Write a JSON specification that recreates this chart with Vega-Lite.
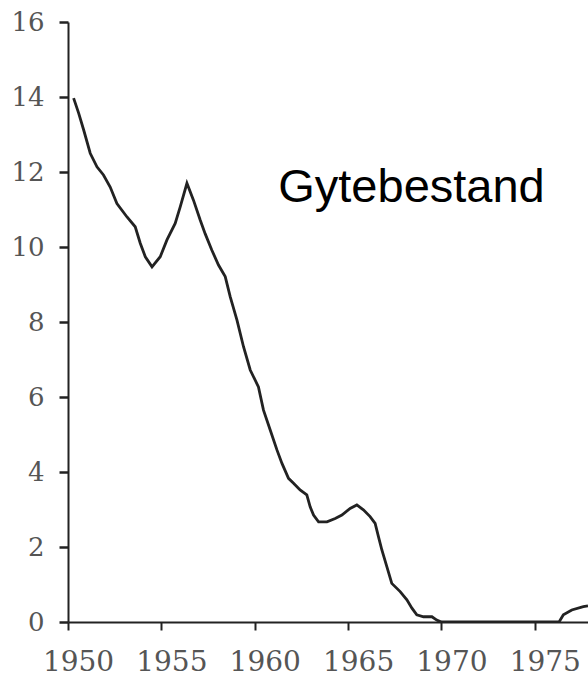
{
  "$schema": "https://vega.github.io/schema/vega-lite/v6.json",
  "width": 520,
  "height": 600,
  "autosize": {"type": "none"},
  "padding": {"left": 68, "top": 22, "right": 0, "bottom": 56},
  "background": "white",
  "config": {"view": {"stroke": null}},
  "datasets": {
    "series": [
      {"year": 1950.3, "value": 13.97},
      {"year": 1950.57, "value": 13.57},
      {"year": 1950.84, "value": 13.12},
      {"year": 1951.19, "value": 12.5},
      {"year": 1951.55, "value": 12.14},
      {"year": 1951.9, "value": 11.92},
      {"year": 1952.26, "value": 11.6},
      {"year": 1952.62, "value": 11.16},
      {"year": 1953.16, "value": 10.8},
      {"year": 1953.6, "value": 10.54},
      {"year": 1953.87, "value": 10.1},
      {"year": 1954.14, "value": 9.74},
      {"year": 1954.5, "value": 9.47},
      {"year": 1954.94, "value": 9.74},
      {"year": 1955.3, "value": 10.19},
      {"year": 1955.74, "value": 10.63},
      {"year": 1956.01, "value": 11.07},
      {"year": 1956.37, "value": 11.7},
      {"year": 1956.72, "value": 11.25},
      {"year": 1957.08, "value": 10.72},
      {"year": 1957.35, "value": 10.35},
      {"year": 1957.7, "value": 9.92},
      {"year": 1958.06, "value": 9.52},
      {"year": 1958.42, "value": 9.21},
      {"year": 1958.69, "value": 8.67},
      {"year": 1959.05, "value": 8.05},
      {"year": 1959.4, "value": 7.34},
      {"year": 1959.76, "value": 6.72},
      {"year": 1960.2, "value": 6.27},
      {"year": 1960.47, "value": 5.65},
      {"year": 1960.83, "value": 5.12},
      {"year": 1961.19, "value": 4.59},
      {"year": 1961.46, "value": 4.23},
      {"year": 1961.81, "value": 3.83},
      {"year": 1962.08, "value": 3.7},
      {"year": 1962.43, "value": 3.52},
      {"year": 1962.79, "value": 3.39},
      {"year": 1962.97, "value": 3.07},
      {"year": 1963.15, "value": 2.85},
      {"year": 1963.42, "value": 2.67},
      {"year": 1963.87, "value": 2.67},
      {"year": 1964.31, "value": 2.76},
      {"year": 1964.67, "value": 2.85},
      {"year": 1965.11, "value": 3.03},
      {"year": 1965.47, "value": 3.12},
      {"year": 1965.82, "value": 2.99},
      {"year": 1966.18, "value": 2.81},
      {"year": 1966.45, "value": 2.63},
      {"year": 1966.63, "value": 2.27},
      {"year": 1966.81, "value": 1.92},
      {"year": 1967.08, "value": 1.47},
      {"year": 1967.34, "value": 1.03},
      {"year": 1967.79, "value": 0.81},
      {"year": 1968.15, "value": 0.59},
      {"year": 1968.42, "value": 0.37},
      {"year": 1968.68, "value": 0.19},
      {"year": 1969.04, "value": 0.14},
      {"year": 1969.49, "value": 0.14},
      {"year": 1969.75, "value": 0.05},
      {"year": 1970, "value": 0},
      {"year": 1971, "value": 0},
      {"year": 1972, "value": 0},
      {"year": 1973, "value": 0},
      {"year": 1974, "value": 0},
      {"year": 1975, "value": 0},
      {"year": 1976, "value": 0},
      {"year": 1976.3, "value": 0},
      {"year": 1976.53, "value": 0.19},
      {"year": 1976.98, "value": 0.32},
      {"year": 1977.6, "value": 0.41},
      {"year": 1977.85, "value": 0.43}
    ],
    "label": [
      {"year": 1961.26, "value": 11.2, "text": "Gytebestand"}
    ]
  },
  "layer": [
    {
      "data": {"name": "series"},
      "mark": {"type": "line", "color": "#222222", "strokeWidth": 2.8, "clip": true},
      "encoding": {
        "x": {
          "field": "year",
          "type": "quantitative",
          "scale": {"domain": [1950, 1977.85], "nice": false, "zero": false},
          "axis": {
            "title": null,
            "values": [1950, 1955, 1960, 1965, 1970, 1975],
            "format": "d",
            "grid": false,
            "domainColor": "#222222",
            "domainWidth": 2,
            "tickColor": "#222222",
            "tickWidth": 2,
            "tickSize": 8,
            "labelFont": "DejaVu Serif",
            "labelFontSize": 28,
            "labelColor": "#555555",
            "labelPadding": 18,
            "labelOffset": 10,
            "labelFlush": false,
            "labelOverlap": false
          }
        },
        "y": {
          "field": "value",
          "type": "quantitative",
          "scale": {"domain": [0, 16], "nice": false},
          "axis": {
            "title": null,
            "values": [0, 2, 4, 6, 8, 10, 12, 14, 16],
            "grid": false,
            "domainColor": "#222222",
            "domainWidth": 2,
            "tickColor": "#222222",
            "tickWidth": 2.5,
            "tickSize": 9,
            "labelFont": "DejaVu Serif",
            "labelFontSize": 26,
            "labelColor": "#555555",
            "labelPadding": 15,
            "labelFlush": false,
            "labelOverlap": false
          }
        }
      }
    },
    {
      "data": {"name": "label"},
      "mark": {"type": "text", "font": "Liberation Sans", "fontSize": 47, "align": "left", "baseline": "alphabetic", "color": "#000000"},
      "encoding": {
        "x": {"field": "year", "type": "quantitative"},
        "y": {"field": "value", "type": "quantitative"},
        "text": {"field": "text"}
      }
    }
  ]
}
